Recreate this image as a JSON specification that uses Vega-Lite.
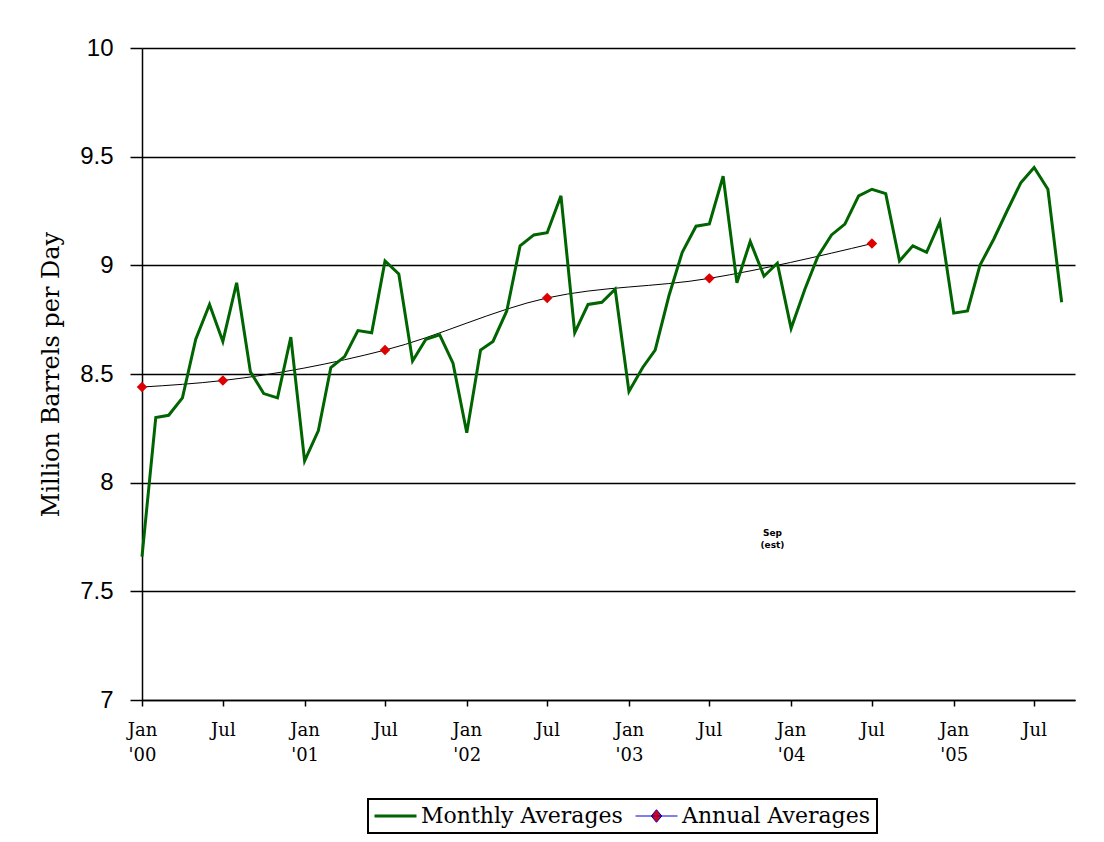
{
  "$schema": "https://vega.github.io/schema/vega-lite/v6.json",
  "width": 933,
  "height": 652,
  "autosize": {"type": "none"},
  "padding": {"left": 142, "top": 48, "right": 29, "bottom": 142},
  "background": "white",
  "config": {"view": {"stroke": null}},
  "datasets": {
    "monthly": [
      {"date": "2000-01-01", "value": 7.66, "series": "Monthly Averages"},
      {"date": "2000-02-01", "value": 8.30, "series": "Monthly Averages"},
      {"date": "2000-03-01", "value": 8.31, "series": "Monthly Averages"},
      {"date": "2000-04-01", "value": 8.39, "series": "Monthly Averages"},
      {"date": "2000-05-01", "value": 8.66, "series": "Monthly Averages"},
      {"date": "2000-06-01", "value": 8.82, "series": "Monthly Averages"},
      {"date": "2000-07-01", "value": 8.65, "series": "Monthly Averages"},
      {"date": "2000-08-01", "value": 8.92, "series": "Monthly Averages"},
      {"date": "2000-09-01", "value": 8.51, "series": "Monthly Averages"},
      {"date": "2000-10-01", "value": 8.41, "series": "Monthly Averages"},
      {"date": "2000-11-01", "value": 8.39, "series": "Monthly Averages"},
      {"date": "2000-12-01", "value": 8.67, "series": "Monthly Averages"},
      {"date": "2001-01-01", "value": 8.10, "series": "Monthly Averages"},
      {"date": "2001-02-01", "value": 8.24, "series": "Monthly Averages"},
      {"date": "2001-03-01", "value": 8.53, "series": "Monthly Averages"},
      {"date": "2001-04-01", "value": 8.58, "series": "Monthly Averages"},
      {"date": "2001-05-01", "value": 8.70, "series": "Monthly Averages"},
      {"date": "2001-06-01", "value": 8.69, "series": "Monthly Averages"},
      {"date": "2001-07-01", "value": 9.02, "series": "Monthly Averages"},
      {"date": "2001-08-01", "value": 8.96, "series": "Monthly Averages"},
      {"date": "2001-09-01", "value": 8.56, "series": "Monthly Averages"},
      {"date": "2001-10-01", "value": 8.66, "series": "Monthly Averages"},
      {"date": "2001-11-01", "value": 8.68, "series": "Monthly Averages"},
      {"date": "2001-12-01", "value": 8.55, "series": "Monthly Averages"},
      {"date": "2002-01-01", "value": 8.23, "series": "Monthly Averages"},
      {"date": "2002-02-01", "value": 8.61, "series": "Monthly Averages"},
      {"date": "2002-03-01", "value": 8.65, "series": "Monthly Averages"},
      {"date": "2002-04-01", "value": 8.79, "series": "Monthly Averages"},
      {"date": "2002-05-01", "value": 9.09, "series": "Monthly Averages"},
      {"date": "2002-06-01", "value": 9.14, "series": "Monthly Averages"},
      {"date": "2002-07-01", "value": 9.15, "series": "Monthly Averages"},
      {"date": "2002-08-01", "value": 9.32, "series": "Monthly Averages"},
      {"date": "2002-09-01", "value": 8.69, "series": "Monthly Averages"},
      {"date": "2002-10-01", "value": 8.82, "series": "Monthly Averages"},
      {"date": "2002-11-01", "value": 8.83, "series": "Monthly Averages"},
      {"date": "2002-12-01", "value": 8.89, "series": "Monthly Averages"},
      {"date": "2003-01-01", "value": 8.42, "series": "Monthly Averages"},
      {"date": "2003-02-01", "value": 8.53, "series": "Monthly Averages"},
      {"date": "2003-03-01", "value": 8.61, "series": "Monthly Averages"},
      {"date": "2003-04-01", "value": 8.86, "series": "Monthly Averages"},
      {"date": "2003-05-01", "value": 9.06, "series": "Monthly Averages"},
      {"date": "2003-06-01", "value": 9.18, "series": "Monthly Averages"},
      {"date": "2003-07-01", "value": 9.19, "series": "Monthly Averages"},
      {"date": "2003-08-01", "value": 9.41, "series": "Monthly Averages"},
      {"date": "2003-09-01", "value": 8.92, "series": "Monthly Averages"},
      {"date": "2003-10-01", "value": 9.11, "series": "Monthly Averages"},
      {"date": "2003-11-01", "value": 8.95, "series": "Monthly Averages"},
      {"date": "2003-12-01", "value": 9.01, "series": "Monthly Averages"},
      {"date": "2004-01-01", "value": 8.71, "series": "Monthly Averages"},
      {"date": "2004-02-01", "value": 8.89, "series": "Monthly Averages"},
      {"date": "2004-03-01", "value": 9.04, "series": "Monthly Averages"},
      {"date": "2004-04-01", "value": 9.14, "series": "Monthly Averages"},
      {"date": "2004-05-01", "value": 9.19, "series": "Monthly Averages"},
      {"date": "2004-06-01", "value": 9.32, "series": "Monthly Averages"},
      {"date": "2004-07-01", "value": 9.35, "series": "Monthly Averages"},
      {"date": "2004-08-01", "value": 9.33, "series": "Monthly Averages"},
      {"date": "2004-09-01", "value": 9.02, "series": "Monthly Averages"},
      {"date": "2004-10-01", "value": 9.09, "series": "Monthly Averages"},
      {"date": "2004-11-01", "value": 9.06, "series": "Monthly Averages"},
      {"date": "2004-12-01", "value": 9.20, "series": "Monthly Averages"},
      {"date": "2005-01-01", "value": 8.78, "series": "Monthly Averages"},
      {"date": "2005-02-01", "value": 8.79, "series": "Monthly Averages"},
      {"date": "2005-03-01", "value": 9.00, "series": "Monthly Averages"},
      {"date": "2005-04-01", "value": 9.12, "series": "Monthly Averages"},
      {"date": "2005-05-01", "value": 9.25, "series": "Monthly Averages"},
      {"date": "2005-06-01", "value": 9.38, "series": "Monthly Averages"},
      {"date": "2005-07-01", "value": 9.45, "series": "Monthly Averages"},
      {"date": "2005-08-01", "value": 9.35, "series": "Monthly Averages"},
      {"date": "2005-09-01", "value": 8.83, "series": "Monthly Averages"}
    ],
    "annual": [
      {"date": "2000-01-01", "value": 8.44, "series": "Annual Averages"},
      {"date": "2000-07-01", "value": 8.47, "series": "Annual Averages"},
      {"date": "2001-07-01", "value": 8.61, "series": "Annual Averages"},
      {"date": "2002-07-01", "value": 8.85, "series": "Annual Averages"},
      {"date": "2003-07-01", "value": 8.94, "series": "Annual Averages"},
      {"date": "2004-07-01", "value": 9.10, "series": "Annual Averages"}
    ],
    "note": [
      {"date": "2003-11-20", "value": 7.77, "label": "Sep\n(est)"}
    ]
  },
  "encoding": {
    "x": {
      "field": "date",
      "type": "temporal",
      "scale": {
        "type": "utc",
        "nice": false,
        "domain": [
          {"year": 2000, "month": 1, "date": 1, "utc": true},
          {"year": 2005, "month": 10, "date": 1, "utc": true}
        ]
      },
      "axis": {
        "title": null,
        "grid": false,
        "values": [
          {"year": 2000, "month": 1, "date": 1, "utc": true},
          {"year": 2000, "month": 7, "date": 1, "utc": true},
          {"year": 2001, "month": 1, "date": 1, "utc": true},
          {"year": 2001, "month": 7, "date": 1, "utc": true},
          {"year": 2002, "month": 1, "date": 1, "utc": true},
          {"year": 2002, "month": 7, "date": 1, "utc": true},
          {"year": 2003, "month": 1, "date": 1, "utc": true},
          {"year": 2003, "month": 7, "date": 1, "utc": true},
          {"year": 2004, "month": 1, "date": 1, "utc": true},
          {"year": 2004, "month": 7, "date": 1, "utc": true},
          {"year": 2005, "month": 1, "date": 1, "utc": true},
          {"year": 2005, "month": 7, "date": 1, "utc": true}
        ],
        "labelExpr": "utcmonth(datum.value) == 0 ? ['Jan', \"'\" + utcFormat(datum.value, '%y')] : 'Jul'",
        "tickSize": 6,
        "tickColor": "black",
        "tickWidth": 1.5,
        "domainColor": "black",
        "domainWidth": 1.5,
        "labelFont": "DejaVu Serif",
        "labelFontSize": 18,
        "labelColor": "black",
        "labelPadding": 15,
        "labelLineHeight": 25,
        "labelBaseline": "top",
        "labelAlign": "center",
        "labelFlush": false,
        "labelOverlap": false
      }
    },
    "y": {
      "field": "value",
      "type": "quantitative",
      "scale": {"domain": [7, 10], "nice": false, "zero": false},
      "axis": {
        "title": "Million Barrels per Day",
        "values": [7, 7.5, 8, 8.5, 9, 9.5, 10],
        "format": "~g",
        "grid": true,
        "gridColor": "black",
        "gridWidth": 1.5,
        "gridOpacity": 1,
        "tickSize": 12,
        "tickColor": "black",
        "tickWidth": 1.5,
        "domainColor": "black",
        "domainWidth": 1.5,
        "labelFont": "Liberation Sans",
        "labelFontSize": 24,
        "labelColor": "black",
        "labelPadding": 17,
        "titleFont": "DejaVu Serif",
        "titleFontSize": 24,
        "titleFontWeight": "normal",
        "titleColor": "black",
        "titlePadding": 16
      }
    }
  },
  "layer": [
    {
      "data": {"name": "annual"},
      "mark": {"type": "line", "color": "black", "strokeWidth": 1, "interpolate": "monotone"},
      "encoding": {}
    },
    {
      "data": {"name": "monthly"},
      "mark": {"type": "line", "strokeWidth": 3},
      "encoding": {
        "color": {
          "field": "series",
          "type": "nominal",
          "scale": {"domain": ["Monthly Averages", "Annual Averages"], "range": ["#006400", "#0000cc"]},
          "legend": {
            "title": null,
            "orient": "none",
            "legendX": 226,
            "legendY": 751,
            "direction": "horizontal",
            "columns": 2,
            "labelFont": "DejaVu Serif",
            "labelFontSize": 22,
            "labelColor": "black",
            "labelLimit": 0,
            "padding": 6,
            "strokeColor": "black",
            "fillColor": "white",
            "symbolType": "M-1,0H3",
            "symbolSize": 441,
            "symbolStrokeWidth": 3,
            "labelOffset": 25,
            "columnPadding": 10,
            "encode": {
              "symbols": {
                "update": {
                  "shape": {"signal": "datum.value === 'Annual Averages' ? 'M-1,0H3M1,-0.6L1.5,0L1,0.6L0.5,0Z' : 'M-1,0H3'"},
                  "fill": {"signal": "datum.value === 'Annual Averages' ? '#dd0000' : 'transparent'"},
                  "strokeWidth": {"signal": "datum.value === 'Annual Averages' ? 1 : 3"}
                }
              },
              "legend": {"update": {"strokeWidth": {"value": 2}}}
            }
          }
        }
      }
    },
    {
      "data": {"name": "annual"},
      "mark": {"type": "point", "shape": "diamond", "filled": true, "color": "#dd0000", "size": 110, "opacity": 1},
      "encoding": {}
    },
    {
      "data": {"name": "note"},
      "mark": {"type": "text", "lineBreak": "\n", "font": "DejaVu Sans", "fontSize": 9, "fontWeight": "bold", "color": "black", "align": "center", "lineHeight": 12},
      "encoding": {"text": {"field": "label"}}
    }
  ]
}
